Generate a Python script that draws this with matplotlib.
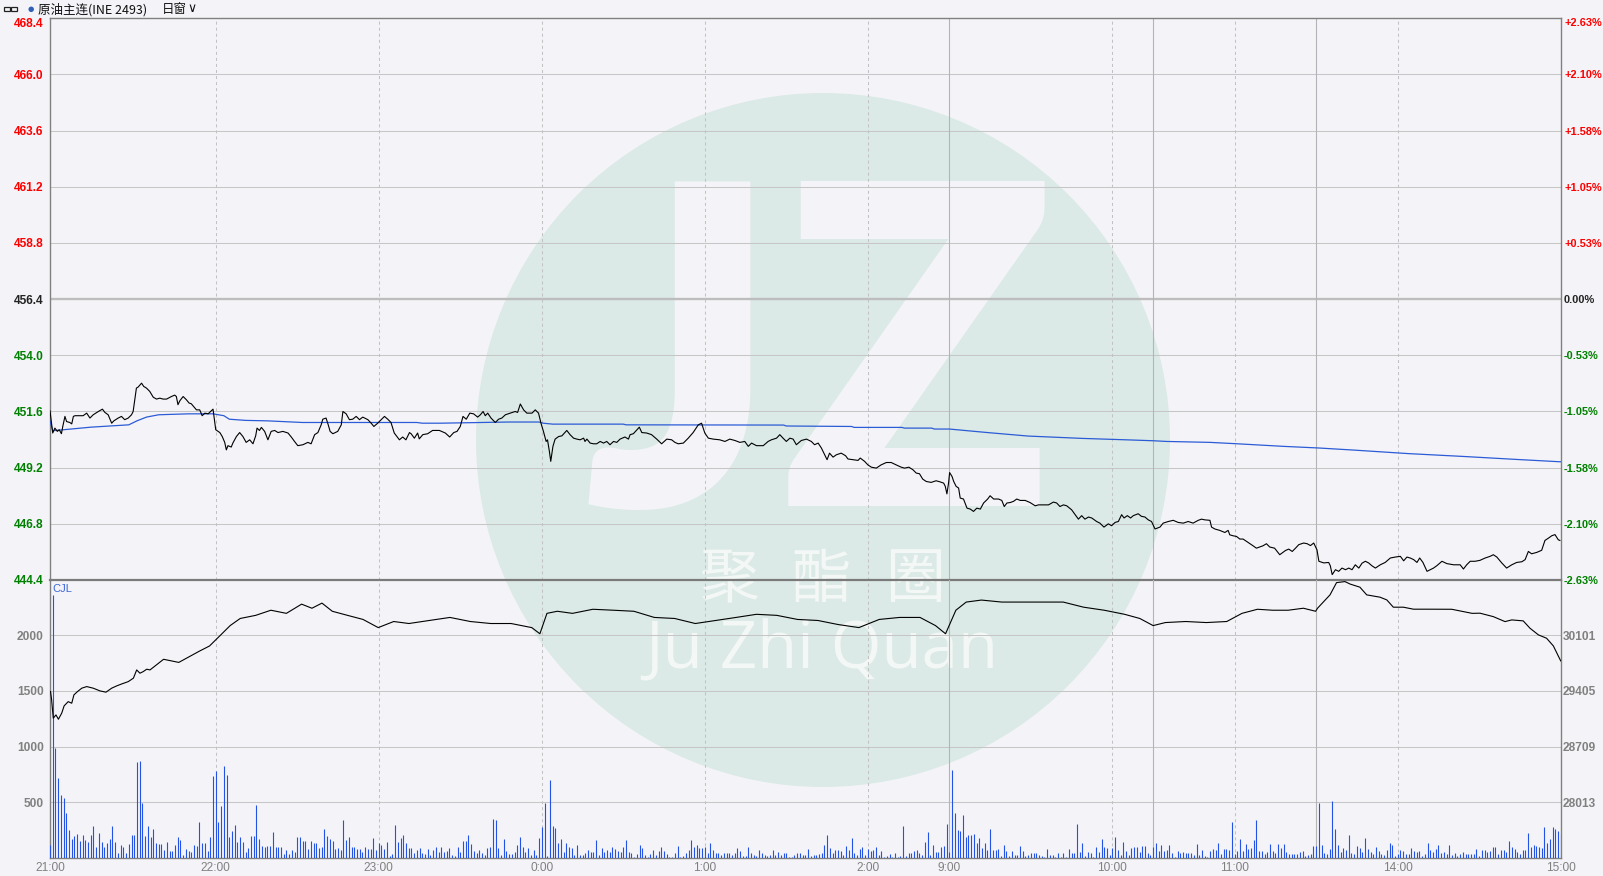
import numpy as np
import matplotlib
matplotlib.use('Agg')
import matplotlib.pyplot as plt
from matplotlib.patches import Ellipse, Rectangle

# ---------------- data ----------------
time_labels = ["21:00", "22:00", "23:00", "0:00", "1:00", "2:00", "9:00", "10:00", "11:00", "14:00", "15:00"]
time_slots = [0, 61, 121, 181, 241, 301, 331, 391, 436, 496, 556]      # minute slot of each label
dashed_slots = [61, 121, 181, 241, 301, 391, 436, 496]
session_breaks = [331, 406, 466]

prev_settle = 456.4
price_levels = [444.4, 446.8, 449.2, 451.6, 454.0, 456.4, 458.8, 461.2, 463.6, 466.0, 468.4]
vol_levels = [500, 1000, 1500, 2000]
oi_levels = [28013, 28709, 29405, 30101]

price_t = [0, 1.0, 1.8, 2.7, 3.4, 4.2, 4.7, 5.5, 6.1, 7.3, 8.0, 8.6, 9.2, 12.2, 13.5, 14.7, 15.9, 17.8, 19.3, 20.2,
           21.4, 22.7, 23.5, 25.1, 26.3, 27.5, 28.8, 30.0, 30.6, 31.8, 32.4, 33.7, 34.5, 35.5, 36.7, 38.0, 39.2, 40.4, 41.6, 42.9,
           44.7, 45.9, 46.5, 47.1, 47.8, 49.0, 50.2, 51.2, 52.0, 53.9, 55.1, 56.0, 57.0, 58.2, 59.4, 60.0, 61.0, 62.5, 63.4, 64.3,
           64.9, 65.5, 66.7, 67.3, 68.6, 69.8, 71.0, 72.2, 73.5, 74.7, 75.7, 76.2, 77.1, 77.8, 79.0, 80.2, 81.4, 82.7, 83.9, 85.7,
           87.6, 88.8, 90.0, 91.2, 93.1, 94.9, 96.1, 97.4, 98.6, 99.8, 100.4, 101.6, 102.4, 103.1, 104.1, 105.9, 107.2, 107.8, 109.0, 110.2,
           111.4, 112.7, 113.9, 115.1, 117.0, 118.2, 119.2, 120.6, 123.1, 124.3, 125.5, 126.7, 128.6, 129.8, 131.0, 132.3, 132.9, 134.1, 135.3, 135.9,
           137.2, 139.0, 140.8, 143.3,
           145.5, 147.1, 148.6, 149.8, 151.0, 152.0, 153.2, 154.5, 155.9, 157.4, 158.4, 159.4, 160.2, 161.1, 162.3, 163.9, 165.1, 166.3, 167.6, 169.4,
           171.2, 172.1, 173.1, 174.3, 175.5, 177.4, 178.6, 179.8, 180.7, 181.6, 182.6, 183.1, 183.8, 184.3, 185.1, 185.9, 187.2, 188.4, 190.2, 191.4,
           192.7, 193.9, 195.1, 196.4, 196.9, 197.6, 198.8, 200.0, 201.2, 202.5, 203.7, 204.9, 206.1, 207.4, 208.6, 209.8, 211.6, 212.9, 213.5, 214.7,
           216.9, 217.8, 219.6, 221.4, 223.3, 225.1, 227.0, 228.8, 230.0, 231.2, 233.1, 234.9, 236.7, 238.6, 239.8, 241.0, 242.3, 244.1, 246.5, 248.4,
           250.2, 252.1, 253.9, 255.7, 257.0, 258.2, 260.0, 262.5, 264.3, 265.5, 267.4, 268.6, 269.8, 271.0, 272.3, 273.5, 274.7, 276.5, 278.4, 280.2,
           281.4, 282.7, 283.9, 285.1, 286.0, 286.9, 288.2, 289.4, 291.2, 292.8, 293.7, 295.5, 297.4, 298.2, 299.8, 301.0, 302.3, 304.1, 305.9, 307.8,
           309.6, 311.4, 313.3, 314.5, 316.1, 317.6, 318.8, 320.0, 321.2, 322.5, 324.3, 326.1, 327.4,
           328.9, 329.5, 330.1, 330.7, 331.1, 332.0, 332.6, 333.5, 334.4, 335.0, 336.2, 337.5, 338.7, 339.9, 341.1, 342.4, 343.6, 345.1, 346.0, 347.3,
           349.1, 350.3, 351.2, 352.2, 353.4, 354.6, 355.8, 357.1, 358.9, 360.7, 362.6, 363.8, 365.6, 367.5, 369.3, 370.5, 371.7, 373.0, 374.2, 376.0,
           377.3, 378.5, 379.7, 380.9, 382.2, 383.4, 385.2, 386.4, 387.9, 389.5, 390.7, 392.0, 393.2, 394.4, 395.3, 396.5, 397.7, 398.7, 400.5, 401.7,
           403.0, 404.2, 405.4, 406.7, 408.5, 409.7, 411.6, 413.4, 415.2, 417.1, 418.9, 420.7, 422.6, 423.8, 425.0, 426.9, 427.5, 428.7, 430.5, 432.4,
           433.6, 434.2, 435.4, 436.7, 437.9, 439.1, 440.9, 442.8, 444.0, 445.2, 446.4, 447.7, 448.9, 450.7, 452.6,
           454.7, 455.9, 457.2, 458.4, 459.6, 461.4, 462.7, 463.9, 465.1, 465.7, 466.3, 467.0, 468.8, 470.6, 471.2, 471.9, 473.1, 474.3, 475.5, 476.8,
           478.0, 479.2, 480.4, 481.7, 482.9, 484.1, 485.3, 486.5, 487.8, 489.6, 491.4, 493.3, 495.1, 497.0, 498.2, 499.4, 500.6, 501.9, 503.1, 504.1,
           505.3, 506.8, 508.0, 509.2, 510.4, 512.3, 514.1, 516.6, 519.0, 520.2, 521.4, 522.7, 524.5, 526.3, 528.2, 530.0, 531.2, 532.5, 534.3, 536.1,
           538.0, 539.8, 541.7, 542.9, 544.1, 545.3, 547.2, 549.0, 550.2, 551.5, 552.7, 553.9, 555.1, 555.7]
price_v = [451.63, 450.68, 450.89, 450.75, 450.82, 450.65, 450.96, 451.39, 451.17, 451.13, 451.07, 451.39, 451.42, 451.42, 451.53, 451.32, 451.46, 451.60, 451.70, 451.56,
           451.46, 451.10, 451.20, 451.32, 451.39, 451.25, 451.32, 451.46, 451.60, 452.60, 452.64, 452.81, 452.67, 452.60, 452.46, 452.21, 452.13, 452.17, 452.13, 452.13,
           452.24, 452.30, 452.24, 451.89, 452.06, 452.24, 452.10, 451.96, 451.93, 451.67, 451.67, 451.42, 451.53, 451.50, 451.63, 451.70, 450.82, 450.70, 450.53, 450.28,
           449.96, 450.14, 450.08, 450.25, 450.53, 450.70, 450.53, 450.28, 450.39, 450.22, 450.56, 450.89, 450.79, 450.92, 450.75, 450.39, 450.75, 450.79, 450.70, 450.75,
           450.68, 450.51, 450.32, 450.14, 450.18, 450.28, 450.22, 450.61, 450.70, 451.03, 451.27, 451.32, 451.03, 450.75, 450.65, 450.75, 451.03, 451.60, 451.50, 451.25,
           451.27, 451.39, 451.25, 451.36, 451.25, 451.10, 450.96, 451.10, 451.39, 451.27, 451.13, 450.68, 450.39, 450.51, 450.39, 450.70, 450.65, 450.46, 450.68, 450.43,
           450.61, 450.65, 450.79, 450.79,
           450.68, 450.51, 450.70, 450.75, 450.96, 451.39, 451.27, 451.53, 451.50, 451.36, 451.46, 451.60, 451.42, 451.53, 451.32, 451.13, 451.27, 451.32, 451.46, 451.53,
           451.60, 451.56, 451.92, 451.67, 451.53, 451.53, 451.67, 451.53, 451.10, 450.75, 450.32, 450.39, 449.89, 449.47, 450.11, 450.42, 450.53, 450.56, 450.79, 450.61,
           450.46, 450.42, 450.39, 450.46, 450.32, 450.42, 450.25, 450.22, 450.22, 450.32, 450.25, 450.32, 450.18, 450.32, 450.28, 450.42, 450.51, 450.42, 450.61, 450.65,
           450.93, 450.70, 450.68, 450.61, 450.42, 450.22, 450.42, 450.39, 450.28, 450.22, 450.25, 450.46, 450.70, 451.03, 451.10, 450.68, 450.46, 450.42, 450.39, 450.32,
           450.42, 450.36, 450.28, 450.32, 450.11, 450.25, 450.14, 450.14, 450.32, 450.39, 450.46, 450.61, 450.46, 450.32, 450.46, 450.42, 450.18, 450.36, 450.42, 450.32,
           450.18, 450.25, 450.04, 449.75, 449.54, 449.82, 449.65, 449.75, 449.82, 449.71, 449.57, 449.54, 449.51, 449.61, 449.47, 449.32, 449.22, 449.18, 449.32, 449.42,
           449.42, 449.32, 449.22, 449.18, 449.22, 449.11, 448.97, 448.94, 448.71, 448.61, 448.57, 448.64, 448.60,
           448.54, 448.40, 448.08, 448.54, 448.99, 448.82, 448.61, 448.40, 448.33, 447.90, 447.86, 447.47, 447.43, 447.33, 447.47, 447.43, 447.69, 447.86, 448.00, 447.86,
           447.86, 447.80, 447.54, 447.69, 447.71, 447.76, 447.86, 447.80, 447.80, 447.71, 447.57, 447.61, 447.61, 447.61, 447.73, 447.69, 447.54, 447.61, 447.57, 447.40,
           447.19, 447.00, 447.15, 447.00, 447.09, 447.05, 446.90, 446.83, 446.66, 446.80, 446.72, 446.86, 446.90, 447.19, 447.05, 447.15, 447.05, 447.15, 447.23, 447.12,
           447.09, 446.97, 446.90, 446.58, 446.66, 446.83, 446.90, 446.95, 446.86, 446.83, 446.90, 446.83, 446.95, 447.00, 446.97, 446.95, 446.66, 446.58, 446.52, 446.43,
           446.52, 446.33, 446.29, 446.26, 446.15, 446.15, 446.01, 445.86, 445.76, 445.81, 445.86, 445.95, 445.81, 445.76, 445.48,
           445.66, 445.72, 445.62, 445.76, 445.91, 445.98, 445.95, 445.87, 445.98, 445.84, 445.69, 445.20, 445.13, 445.15, 445.01, 444.63, 444.84, 444.77, 444.91, 444.84,
           444.91, 444.84, 445.05, 444.91, 445.12, 445.20, 445.13, 445.01, 444.91, 445.05, 445.15, 445.34, 445.38, 445.41, 445.22, 445.38, 445.34, 445.27, 445.15, 445.34,
           445.15, 444.77, 444.84, 444.91, 445.01, 445.20, 445.10, 445.05, 445.05, 444.87, 445.05, 445.20, 445.20, 445.24, 445.34, 445.41, 445.48, 445.38, 445.13, 444.91,
           445.05, 445.15, 445.18, 445.27, 445.62, 445.52, 445.58, 445.67, 446.09, 446.19, 446.29, 446.34, 446.12, 446.09]

avg_t = [0, 1, 5, 15, 29, 32, 35.5, 40, 51, 60, 64, 66, 72, 80, 93, 135, 137, 143.7, 168.8, 180, 181.5, 185, 211, 212, 270, 271,
         295, 296, 313.5, 314.5, 324.5, 325.5, 331, 345, 360, 380, 396, 406, 411, 427, 437, 454, 467, 480, 500, 520, 540, 556]
avg_v = [451.2, 450.78, 450.82, 450.93, 451.03, 451.2, 451.36, 451.46, 451.5, 451.5, 451.42, 451.27, 451.22, 451.2, 451.13, 451.13, 451.1, 451.1,
         451.15, 451.15, 451.1, 451.06, 451.06, 451.03, 451.02, 450.98, 450.96, 450.92, 450.92, 450.89, 450.89, 450.85, 450.85, 450.7,
         450.55, 450.45, 450.39, 450.35, 450.32, 450.28, 450.22, 450.11, 450.04, 449.95, 449.8, 449.68, 449.55, 449.45]

oi_t = [0.2, 0.6, 1.2, 2.2, 3.1, 4.3, 5.2, 6.7, 8.0, 8.8, 10.1, 11.7, 13.5, 15.9, 18.4, 20.6, 22.7, 24.5, 26.4, 28.8, 30.7, 31.9, 33.1,
        34.3, 35.6, 36.8, 41.8, 47.4, 55.0, 58.7, 62.5, 66.3, 70.0, 75.7, 81.3, 87.0, 92.6, 96.4, 100.1, 103.9, 109.5, 115.2, 120.8,
        126.5, 132.1, 139.6, 147.2, 154.7, 162.2, 169.7, 177.3, 180.3, 182.9, 186.7, 192.3, 199.8, 207.4, 214.9, 222.4, 229.9, 237.5,
        245.0, 252.5, 260.0, 267.5, 275.1, 282.6, 290.1, 297.7, 305.2, 312.7, 320.2, 325.9, 329.6, 333.4, 337.2, 342.8, 350.3, 357.9,
        365.4, 372.9, 380.4, 388.0, 395.5, 401.1, 406.0, 410.5, 418.0, 425.6, 433.1, 438.7, 444.4, 450.0, 455.7, 461.3, 465.8, 466.5,
        471.1, 473.5, 476.6, 478.5, 482.1, 484.6, 489.5, 492.0, 494.4, 498.1, 501.8, 506.7, 515.9, 523.4, 526.3, 531.2, 535.5, 538.0,
        542.2, 544.7, 547.8, 550.8, 553.3, 556.0]
oi_v = [29396, 29293, 29064, 29105, 29051, 29126, 29218, 29271, 29251, 29355, 29396, 29439, 29459, 29439, 29405, 29389, 29439, 29467,
        29492, 29521, 29564, 29667, 29626, 29646, 29676, 29667, 29800, 29761, 29902, 29966, 30093, 30221, 30310, 30349, 30413, 30374,
        30489, 30438, 30502, 30400, 30349, 30298, 30196, 30272, 30247, 30285, 30323, 30272, 30247, 30247, 30196, 30119, 30374, 30400,
        30374, 30425, 30413, 30400, 30323, 30310, 30247, 30285, 30323, 30362, 30349, 30298, 30285, 30234, 30196, 30298, 30323, 30323,
        30221, 30119, 30413, 30515, 30540, 30515, 30515, 30515, 30515, 30451, 30413, 30362, 30310, 30221, 30259, 30272, 30259, 30272,
        30374, 30425, 30413, 30413, 30438, 30400, 30438, 30605, 30758, 30771, 30740, 30701, 30605, 30576, 30542, 30451, 30451, 30426,
        30426, 30425, 30374, 30376, 30333, 30271, 30292, 30280, 30188, 30105, 30063, 29967, 29780]

vol_open = [117, 2361, 985, 715, 566, 536, 401, 251, 171, 197, 215, 153, 206, 162, 141, 206, 287, 102, 221, 141, 102, 138, 174, 287,
            141, 42, 117, 102, 42, 126, 206, 206, 865, 874, 497, 197, 287]
vol_night = [192, 261, 138, 126, 126, 72, 144, 63, 63, 117, 192, 162, 24, 84, 66, 54, 114, 108, 324, 132, 132, 66, 192, 732, 783, 324,
             468, 822, 747, 192, 246, 297, 147, 192, 147, 57, 87, 198, 198, 477, 171, 108, 96, 108, 108, 234, 96, 96, 96, 36, 72, 33,
             72, 57, 186, 186, 156, 156, 81, 153, 138, 132, 87, 96, 258, 198, 171, 153, 78, 87, 72, 342, 162, 186, 96, 96, 81, 81, 51,
             96, 81, 81, 177, 72, 138, 114, 78, 144, 18, 33, 297, 144, 177, 207, 132, 90, 90, 48, 72, 87, 48, 36, 78, 30, 72, 96, 54, 96,
             57, 66, 87, 27, 18, 96, 54, 156, 156, 204, 126, 66, 42, 72, 42, 24, 87, 102, 351, 342, 87, 27, 174, 63, 36, 36, 57, 117, 192,
             96, 57, 87, 27, 72, 27, 177, 276, 498, 18, 702, 288, 273, 132, 168, 57, 132, 96, 87, 27, 117, 27, 27, 42, 72, 57, 57, 162, 27,
             90, 57, 72, 57, 96, 78, 66, 57, 96, 162, 57, 42, 12, 36, 117]
vol_mid = [87, 27, 12, 36, 72, 27, 66, 96, 66, 36, 12, 12, 42, 108, 12, 18, 42, 72, 162, 96, 117, 87, 87, 102, 42, 132, 72, 42, 42, 27,
           42, 48, 42, 27, 42, 87, 66, 18, 18, 96, 48, 27, 18, 72, 42, 27, 18, 27, 72, 27, 57, 27, 48, 48, 12, 12, 27, 42, 42, 27, 27, 78,
           18, 27, 27, 36, 42, 117, 207, 87, 42, 72, 72, 66, 27, 108, 72, 177, 42, 27, 78, 102, 27, 78, 66, 72, 96, 27, 66, 12, 18, 36,
           12, 42, 12, 18, 288, 18, 42, 42, 63, 72, 42, 27, 147, 234, 27, 117, 57, 57, 102, 108, 306, 57, 792, 402, 252, 246, 387, 186,
           207, 207, 216, 138, 180, 87, 138, 72, 261, 72, 72, 81, 18, 117, 63, 18, 66, 27, 27, 108, 66, 18, 27, 42, 42, 42, 27, 18, 12,
           81, 27, 27, 12, 42, 12, 42, 12, 81, 42, 42, 306, 57, 132, 18, 57, 42, 12, 102, 57, 168, 102, 87, 27, 87, 192, 72, 27, 144,
           63, 27, 87, 102, 102, 57, 108, 108, 42, 27, 96, 132, 63, 117, 63, 72, 114, 42, 12, 63, 42, 57, 48, 42, 42, 27, 126, 27]
vol_day = [72, 18, 12, 63, 78, 72, 132, 36, 84, 84, 72, 324, 36, 63, 171, 63, 126, 81, 90, 162, 342, 63, 63, 36, 54, 126, 63, 42, 126,
           90, 126, 54, 36, 36, 36, 36, 54, 63, 18, 27, 36, 108, 108, 498, 117, 45, 36, 81, 513, 261, 117, 54, 90, 72, 207, 45, 36, 108,
           90, 54, 180, 81, 54, 36, 99, 63, 36, 27, 72, 135, 117, 18, 36, 72, 63, 36, 36, 90, 63, 54, 63, 18, 36, 135, 72, 54, 81, 117,
           45, 54, 36, 117, 27, 45, 18, 36, 54, 36, 36, 36, 36, 81, 18, 72, 72, 54, 63, 99, 99, 36, 72, 72, 54, 153, 99, 81, 54, 36, 72,
           72, 225, 99, 117, 108, 99, 90, 279, 135, 171, 279, 258, 246, 216]

# ---------------- styling / layout ----------------
W, H = 1603, 876
BG = '#f4f4f8'
plt.rcParams['font.family'] = ['Liberation Sans', 'Noto Sans CJK SC', 'DejaVu Sans']

fig = plt.figure(figsize=(W / 100, H / 100), dpi=100, facecolor=BG)


def fx(x):
    return x / W


def fy(y):
    return 1 - y / H


L, R, T, MID, B = 50, 1560.7, 18.3, 580, 858
ax = fig.add_axes([fx(L), fy(MID), fx(R) - fx(L), fy(T) - fy(MID)])
axv = fig.add_axes([fx(L), fy(B), fx(R) - fx(L), fy(MID) - fy(B)])

# ---- watermark ----
fig.add_artist(Ellipse((fx(823), fy(440)), 2 * 347 / W, 2 * 347 / H, transform=fig.transFigure,
                       facecolor='#dbeae6', edgecolor='none', zorder=-10))
fig.text(fx(681), fy(506), 'J', fontsize=322, fontweight='heavy', family='Lato', color=BG,
         ha='center', va='baseline', zorder=-9)
fig.text(fx(918), fy(506), 'Z', fontsize=322, fontweight='heavy', family='Lato', color=BG,
         ha='center', va='baseline', zorder=-9)
for ch, cx in zip(['聚', '酯', '圈'], [729, 821, 915]):
    fig.text(fx(cx), fy(581), ch, fontsize=43, family='Noto Sans CJK SC', color='#f3f7f6',
             ha='center', va='center', zorder=-9)
fig.text(fx(822), fy(668), 'Ju Zhi Quan', fontsize=47, family='Open Sans', color='#f3f7f6',
         ha='center', va='baseline', zorder=-9)

for a in (ax, axv):
    a.set_facecolor('none')
    a.set_xlim(0, 556)
    for s in a.spines.values():
        s.set_color('#808080')
        s.set_linewidth(1.0)

ax.set_ylim(price_levels[0], price_levels[-1])
vol_top = 2495.5
axv.set_ylim(0, vol_top)

# grid lines
for lv in price_levels[1:-1]:
    if lv == prev_settle:
        ax.axhline(lv, color='#bdbdbd', lw=1.7, zorder=1)
    else:
        ax.axhline(lv, color='#c6c6c6', lw=0.75, zorder=1)
for lv in vol_levels:
    axv.axhline(lv, color='#c6c6c6', lw=0.75, zorder=1)
for a in (ax, axv):
    for s in dashed_slots:
        a.axvline(s, color='#c2c2c2', lw=0.75, ls=(0, (2.9, 2.9)), zorder=1)
    for s in session_breaks:
        a.axvline(s, color='#b4b4b4', lw=0.8, zorder=1)
ax.spines['bottom'].set_linewidth(1.6)
ax.spines['bottom'].set_color('#7a7a7a')
axv.spines['top'].set_visible(False)

# data
ax.plot(price_t, price_v, color='black', lw=0.8, zorder=4)
ax.plot(avg_t, avg_v, color='#2b5bd6', lw=0.9, zorder=3)
vol = vol_open + vol_night + vol_mid + vol_day
axv.vlines(np.arange(len(vol)), 0, vol, colors='#2352e6', lw=0.8, zorder=3)

axo = axv.twinx()
axo.set_xlim(0, 556)
oi_bottom = oi_levels[0] - (oi_levels[1] - oi_levels[0])
axo.set_ylim(oi_bottom, oi_bottom + vol_top / 500 * (oi_levels[1] - oi_levels[0]))
axo.plot(oi_t, oi_v, color='black', lw=0.8, zorder=4)

axp = ax.twinx()
axp.set_ylim(price_levels[0], price_levels[-1])

for a in (axo, axp):
    a.set_facecolor('none')
    for s in a.spines.values():
        s.set_visible(False)

RED, GREEN, DARK, GRAY = '#ff0000', '#008000', '#222222', '#808080'
lab_kw = dict(fontsize=8.6, fontweight='bold')

# left price labels
ax.set_yticks(price_levels)
ax.set_yticklabels([f'{p:.1f}' for p in price_levels], **lab_kw)
ax.tick_params(axis='y', length=0, pad=4.5)
for p, t in zip(price_levels, ax.get_yticklabels()):
    t.set_color(RED if p > prev_settle else (DARK if p == prev_settle else GREEN))
    if p == price_levels[-1]:
        t.set_verticalalignment('top')
ax.set_xticks([])

# right percent labels
pct = [(p - prev_settle) / prev_settle * 100 for p in price_levels]
pct_labels = ['0.00%' if abs(v) < 0.001 else ('+' if v > 0 else '') + f'{v:.2f}%' for v in pct]
axp.set_yticks(price_levels)
axp.set_yticklabels(pct_labels, fontsize=7.9, fontweight='bold')
axp.tick_params(axis='y', length=0, pad=2.4)
for p, t in zip(price_levels, axp.get_yticklabels()):
    t.set_color(RED if p > prev_settle else (DARK if p == prev_settle else GREEN))
    if p == price_levels[-1]:
        t.set_verticalalignment('top')

# volume labels
axv.set_yticks(vol_levels)
axv.set_yticklabels([str(v) for v in vol_levels], color=GRAY, **lab_kw)
axv.tick_params(axis='y', length=0, pad=4.5)
axo.set_yticks(oi_levels)
axo.set_yticklabels([str(v) for v in oi_levels], color=GRAY, **lab_kw)
axo.tick_params(axis='y', length=0, pad=1.2)

axv.set_xticks(time_slots)
axv.set_xticklabels(time_labels, color=GRAY, fontsize=8.6)
axv.tick_params(axis='x', length=0, pad=3)
axo.tick_params(axis='x', length=0, labelbottom=False)

fig.text(fx(52), fy(589), 'CJL', color='#3a66d8', fontsize=8, va='center', ha='left')

# ---- header ----
fig.add_artist(Rectangle((fx(4), fy(11)), 6 / W, 4 / H, transform=fig.transFigure, fill=False,
                         edgecolor='#222222', lw=0.9))
fig.add_artist(Rectangle((fx(10.5), fy(11)), 6 / W, 4 / H, transform=fig.transFigure, fill=False,
                         edgecolor='#222222', lw=0.9))
fig.add_artist(Ellipse((fx(31.2), fy(9.3)), 5.5 / W, 5.5 / H, transform=fig.transFigure,
                       facecolor='#3060b8', edgecolor='none'))
fig.text(fx(37.5), fy(9.3), '原油主连(INE 2493)', fontsize=9, color='#111111', va='center', ha='left',
         family=['Noto Sans CJK SC', 'DejaVu Sans'])
fig.text(fx(162), fy(9.3), '日窗', fontsize=9, color='#111111', va='center', ha='left',
         family=['Noto Sans CJK SC', 'DejaVu Sans'])
fig.text(fx(187), fy(9.0), '∨', fontsize=9, color='#111111', va='center', ha='left',
         family=['DejaVu Sans'])

fig.savefig('out.png', dpi=100, facecolor=BG)
